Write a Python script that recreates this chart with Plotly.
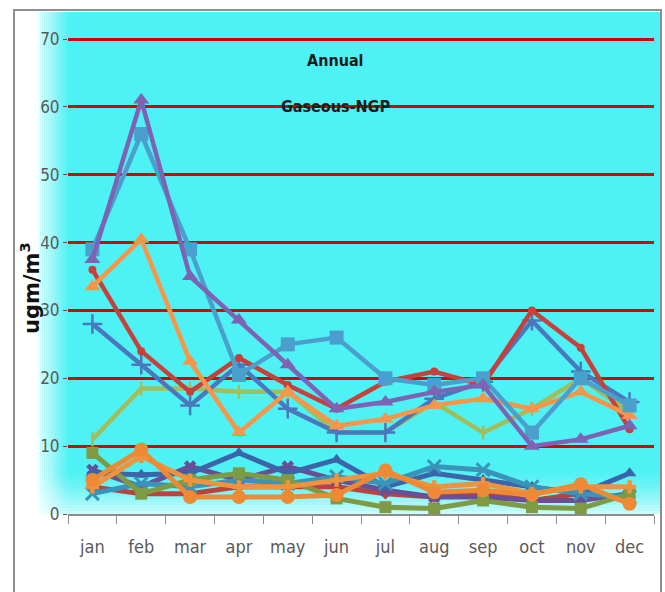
import plotly.graph_objects as go

# ---------------- data ----------------
months = ['jan', 'feb', 'mar', 'apr', 'may', 'jun', 'jul', 'aug', 'sep', 'oct', 'nov', 'dec']

# upper group
s_purple = [37.5, 61, 35, 28.6, 22, 15.5, 16.5, 18, 19, 10, 11, 13]
s_teal = [39, 56, 39, 20.5, 25, 26, 20, 19, 20, 12, 20, 16]
s_red = [36, 24, 18, 23, 19, 15.5, 19.5, 21, 19, 30, 24.5, 12.5]
s_blue = [28, 22, 16, 22, 15.5, 12, 12, 17, 19.5, 28.5, 21, 16.5]
s_orange = [33.5, 40.5, 22.5, 12, 18, 13, 14, 16, 17, 15.5, 18, 14.5]
s_green = [11, 18.5, 18.5, 18, 18, 12, 12, 16.5, 12, 15.5, 20, 15]

# lower group
l_darkblue = [6, 5.8, 6, 9, 6, 8, 4, 6, 5, 4, 3, 6]
l_purple = [6.5, 4, 7, 5, 7, 5, 3.5, 2.5, 2.5, 2, 2, 3]
l_olive = [9, 3, 5, 6, 5, 2.3, 1, 0.8, 2, 1, 0.8, 3]
l_teal = [3, 4.5, 4, 5, 4.5, 5.5, 4.5, 7, 6.5, 4, 3, 2.5]
l_red = [4, 3, 3, 4, 4, 4, 3, 2.5, 3, 2, 3, 2]
l_orange2 = [4, 8.5, 5, 4, 4, 5, 6, 4, 4.5, 3, 4, 4]
l_orange = [5, 9.5, 2.5, 2.5, 2.5, 2.8, 6.4, 3.2, 3.5, 2.8, 4.4, 1.5]

title1 = "Annual"
title2 = "Gaseous-NGP"
ytitle = "ugm/m<sup>3</sup>"

# ---------------- geometry helpers ----------------
W, H = 665, 592
L, R, T, B = 68, 11, 36, 78
PW, PH = W - L - R, H - T - B
YMAX = 70 * PH / 475.0  # so that 70 sits at y=39 px and its gridline is drawn


def px(x):
    return (x - L) / PW


def py(y):
    return (H - B - y) / PH


FONT = "DejaVu Sans Condensed, Liberation Sans Narrow, Arial Narrow, sans-serif"
CYAN = "#4EF2F4"

fig = go.Figure()


def add(vals, color, symbol, size, width=4.5, mline=None):
    marker = dict(symbol=symbol, size=size, color=color)
    if mline:
        marker["line"] = dict(color=color, width=mline)
    fig.add_trace(go.Scatter(x=months, y=vals, mode="lines+markers",
                             line=dict(color=color, width=width),
                             marker=marker, showlegend=False))


# lower group
add(l_red, "#B9433F", "diamond", 9, 5)
add(l_purple, "#6A4E96", "x", 11, 5)
add(l_darkblue, "#3C64A8", "triangle-up", 12, 5)
add(l_teal, "#3A93B8", "x-thin", 13, 5, mline=3)
add(l_olive, "#7E9A45", "square", 12, 5)
add(l_orange2, "#F0923E", "cross", 11, 5)
add(l_orange, "#EE8A35", "circle", 14, 5)

# upper group
add(s_green, "#A2BE5C", "line-ns", 10, 4.5, mline=2.5)
add(s_blue, "#4A78BE", "cross-thin", 14, 4.5, mline=2.5)
add(s_red, "#C6403C", "circle", 8, 4.5)
add(s_orange, "#F7964A", "triangle-up", 14, 4.5)
add(s_teal, "#4B9FCC", "square", 14, 4.5)
add(s_purple, "#7E62B4", "triangle-up", 14, 4.5)

shapes = []
# cyan panel
shapes.append(dict(type="rect", xref="paper", yref="paper", layer="below",
                   x0=px(38), x1=px(660), y0=py(514), y1=py(12),
                   fillcolor=CYAN, line=dict(width=0)))
# left white fade
n = 16
x_start, x_end = 36, 70
for i in range(n):
    a = 1 - i / n
    shapes.append(dict(type="rect", xref="paper", yref="paper", layer="below",
                       x0=px(x_start + (x_end - x_start) * i / n),
                       x1=px(x_start + (x_end - x_start) * (i + 1) / n),
                       y0=py(514), y1=py(12),
                       fillcolor="white", opacity=a ** 1.3, line=dict(width=0)))
# bottom white fade
m = 14
y_top, y_bot = 470, 514
for i in range(m):
    a = (i + 1) / m * 0.8
    shapes.append(dict(type="rect", xref="paper", yref="paper", layer="below",
                       x0=px(38), x1=px(660),
                       y0=py(y_top + (y_bot - y_top) * (i + 1) / m),
                       y1=py(y_top + (y_bot - y_top) * i / m),
                       fillcolor="white", opacity=a ** 1.5, line=dict(width=0)))
# outer frame
shapes.append(dict(type="rect", xref="paper", yref="paper", layer="above",
                   x0=px(14), x1=px(661), y0=py(600), y1=py(10),
                   line=dict(color="#8E8E8E", width=2), fillcolor="rgba(0,0,0,0)"))

fig.update_layout(
    width=W, height=H,
    margin=dict(l=L, r=R, t=T, b=B),
    paper_bgcolor="white",
    plot_bgcolor="rgba(0,0,0,0)",
    shapes=shapes,
    font=dict(family=FONT, color="#595959"),
    annotations=[
        dict(text="<b>" + title1 + "</b>", xref="paper", yref="paper",
             x=px(335), y=py(60), showarrow=False,
             xanchor="center", yanchor="middle",
             font=dict(family=FONT, size=16, color="#1A1A1A")),
        dict(text="<b>" + title2 + "</b>", xref="paper", yref="paper",
             x=px(335), y=py(106), showarrow=False,
             xanchor="center", yanchor="middle",
             font=dict(family=FONT, size=16, color="#1A1A1A")),
        dict(text="<b>" + ytitle + "</b>", xref="paper", yref="paper",
             x=px(30), y=py(288), showarrow=False, textangle=-90,
             xanchor="center", yanchor="middle",
             font=dict(family="DejaVu Sans, sans-serif", size=21, color="#111111")),
    ],
)

fig.update_xaxes(
    type="category", range=[-0.5, 11.5],
    showline=True, linecolor="#8C8C8C", linewidth=1.5,
    ticks="outside", tickson="boundaries", ticklen=8, tickcolor="#8C8C8C",
    showgrid=False, zeroline=False,
    tickfont=dict(family=FONT, size=18, color="#595959"),
    ticklabelstandoff=16,
)

fig.update_yaxes(
    range=[0, YMAX], tickvals=[0, 10, 20, 30, 40, 50, 60, 70],
    showgrid=True, gridcolor="#D40404", gridwidth=3,
    zeroline=False, showline=False,
    ticks="outside", ticklen=4, tickcolor="#555555",
    tickfont=dict(family=FONT, size=17, color="#595959"),
)

fig.write_html("out.html")
